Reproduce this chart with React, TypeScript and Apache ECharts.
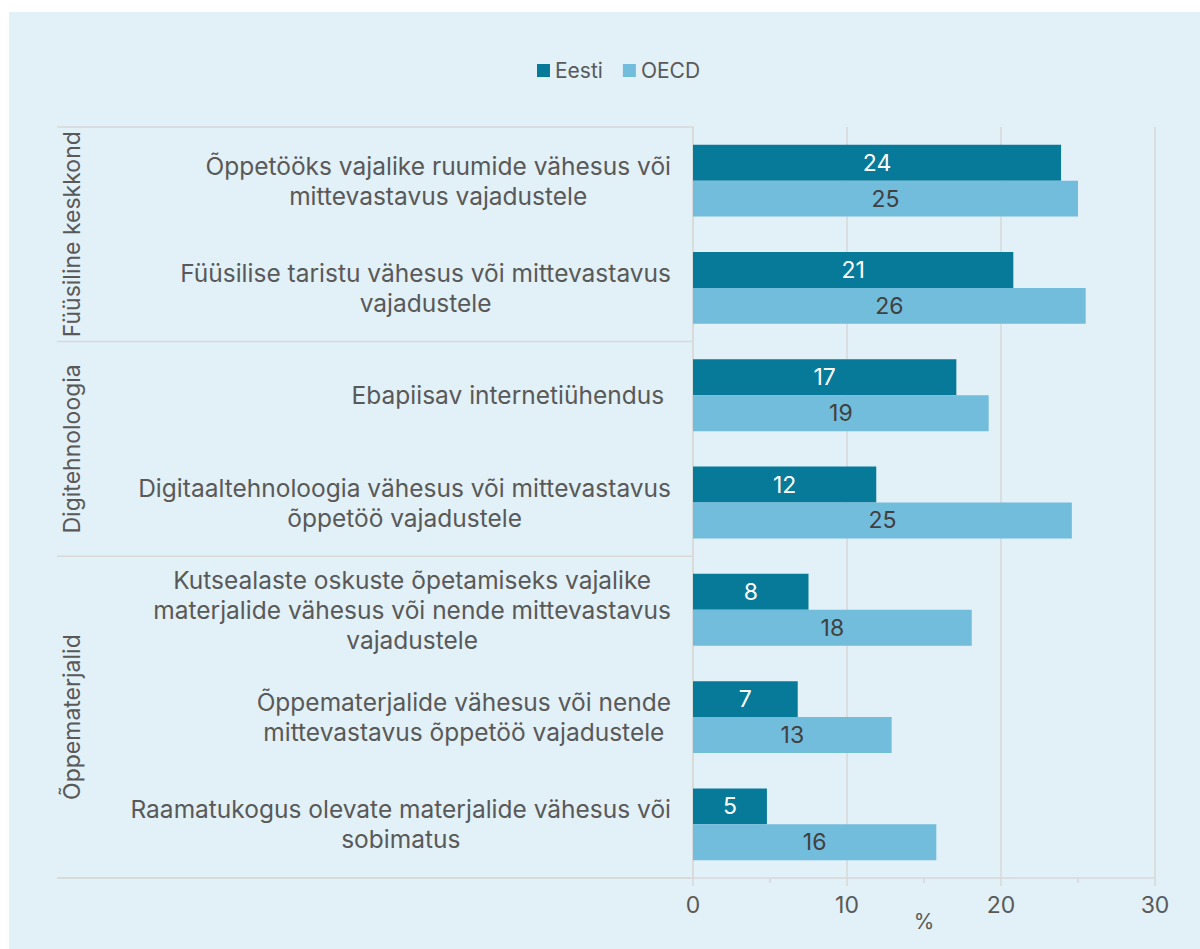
import React, { useEffect, useRef } from "react";
import * as echarts from "echarts";

const categories = [
  "Õppetööks vajalike ruumide vähesus või\nmittevastavus vajadustele",
  "Füüsilise taristu vähesus või mittevastavus\nvajadustele",
  "Ebapiisav internetiühendus ",
  "Digitaaltehnoloogia vähesus või mittevastavus\nõppetöö vajadustele",
  "Kutsealaste oskuste õpetamiseks vajalike\nmaterjalide vähesus või nende mittevastavus\nvajadustele",
  "Õppematerjalide vähesus või nende\nmittevastavus õppetöö vajadustele",
  "Raamatukogus olevate materjalide vähesus või\nsobimatus",
];
const groups = ["Füüsiline keskkond", "Digitehnoloogia", "Õppematerjalid"];
const groupSizes = [2, 2, 3];
const eestiValues = [23.9, 20.8, 17.1, 11.9, 7.5, 6.8, 4.8];
const oecdValues = [25.0, 25.5, 19.2, 24.6, 18.1, 12.9, 15.8];
const seriesNames = ["Eesti", "OECD"];
const xMin = 0;
const xMax = 30;
const xInterval = 10;

const FONT = "Inter, 'Open Sans', sans-serif";
const TEXT = "#595959";
const GRIDC = "#d9d9d9";
const BG = "#e2f0f8";

export default function App() {
  const ref = useRef<HTMLDivElement>(null);
  useEffect(() => {
    if (!ref.current) return;
    const chart = echarts.init(ref.current, undefined, { renderer: "svg" });
    const H = 937;
    const grid = { left: 684, right: 45, top: 115, bottom: 71 };
    const gridH = H - grid.top - grid.bottom;
    const n = categories.length;
    const labelLeft = 48;

    const graphics: any[] = [];
    let acc = 0;
    const bounds = [0];
    groupSizes.forEach((s) => {
      acc += s;
      bounds.push(acc);
    });
    bounds.forEach((b) => {
      const y = grid.top + (b / n) * gridH;
      graphics.push({
        type: "line",
        shape: { x1: labelLeft, y1: y, x2: grid.left, y2: y },
        style: { stroke: GRIDC, lineWidth: 1.5 },
        silent: true,
      });
    });
    groups.forEach((g, i) => {
      const y0 = grid.top + (bounds[i] / n) * gridH;
      const y1 = grid.top + (bounds[i + 1] / n) * gridH;
      graphics.push({
        type: "text",
        x: 63,
        y: (y0 + y1) / 2,
        rotation: Math.PI / 2,
        style: {
          text: g,
          fill: TEXT,
          font: `23px ${FONT}`,
          align: "center",
          verticalAlign: "middle",
        },
        silent: true,
      });
    });

    const barLabel = (color: string) => ({
      show: true,
      position: "inside",
      color,
      fontSize: 23,
      fontFamily: FONT,
      formatter: (p: any) => String(Math.round(p.value)),
    });

    chart.setOption({
      animation: false,
      backgroundColor: BG,
      textStyle: { fontFamily: FONT },
      legend: {
        left: 523,
        top: 43,
        itemWidth: 13,
        itemHeight: 13,
        itemGap: 20,
        icon: "rect",
        textStyle: { color: TEXT, fontSize: 21, fontFamily: FONT },
        data: seriesNames,
      },
      grid: { ...grid, containLabel: false },
      xAxis: {
        type: "value",
        min: xMin,
        max: xMax,
        interval: xInterval,
        name: "%",
        nameLocation: "middle",
        nameGap: 33,
        nameMoveOverlap: false,
        nameTextStyle: { color: TEXT, fontSize: 21, fontFamily: FONT },
        axisLine: { show: true, lineStyle: { color: GRIDC, width: 1.5 } },
        axisTick: { show: true, length: 8, lineStyle: { color: GRIDC, width: 1.5 } },
        minorTick: { show: true, splitNumber: 2, length: 5, lineStyle: { color: GRIDC, width: 1.5 } },
        axisLabel: { color: TEXT, fontSize: 23, margin: 15, fontFamily: FONT },
        splitLine: { show: true, lineStyle: { color: GRIDC, width: 1.5 } },
      },
      yAxis: {
        type: "category",
        inverse: true,
        data: categories,
        axisLine: { show: true, lineStyle: { color: GRIDC, width: 1.5 } },
        axisTick: { show: false },
        axisLabel: {
          interval: 0,
          margin: 22,
          align: "right",
          formatter: (v: string) =>
            v
              .split("\n")
              .map((l) => `{c|${l}}`)
              .join("\n"),
          rich: {
            c: {
              align: "center",
              fontSize: 24.5,
              lineHeight: 30,
              color: TEXT,
              fontFamily: FONT,
            },
          },
        },
      },
      graphic: [
        ...graphics,
        {
          type: "line",
          shape: { x1: labelLeft, y1: H - grid.bottom, x2: grid.left, y2: H - grid.bottom },
          style: { stroke: GRIDC, lineWidth: 1.5 },
          silent: true,
        },
      ],
      series: [
        {
          name: seriesNames[0],
          type: "bar",
          data: eestiValues,
          barGap: "0%",
          barCategoryGap: "33%",
          itemStyle: { color: "#077a9a" },
          label: barLabel("#ffffff"),
        },
        {
          name: seriesNames[1],
          type: "bar",
          data: oecdValues,
          barGap: "0%",
          barCategoryGap: "33%",
          itemStyle: { color: "#72bcdc" },
          label: barLabel("#404040"),
        },
      ],
    });
    return () => chart.dispose();
  }, []);
  return (
    <div
      ref={ref}
      style={{ position: "absolute", left: 9, top: 12, width: 1191, height: 937 }}
    />
  );
}
